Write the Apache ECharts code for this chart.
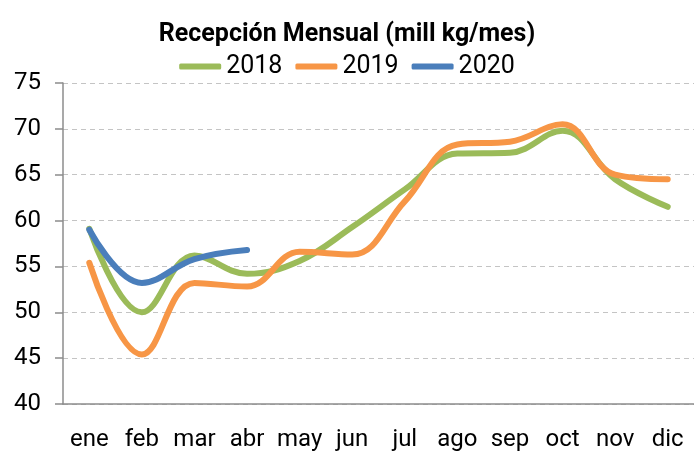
<!DOCTYPE html>
<html><head><meta charset="utf-8">
<script src="https://cdn.jsdelivr.net/npm/echarts@6/dist/echarts.min.js"></script>
<style>html,body{margin:0;padding:0;background:#fff}#c{width:694px;height:452px}</style>
</head><body><div id="c"></div>
<script>
const categories = ['ene','feb','mar','abr','may','jun','jul','ago','sep','oct','nov','dic'];
const yTicks = [40,45,50,55,60,65,70,75];
const s2018 = [59.1,50.0,56.2,54.2,55.6,59.3,63.4,67.3,67.4,69.8,64.5,61.5];
const s2019 = [55.4,45.4,53.2,52.8,56.6,56.3,62.1,68.3,68.6,70.5,65.0,64.5];
const s2020 = [59.0,53.2,55.8,56.8];
const names = ['2018','2019','2020'];
const colors = ['#9BBB59','#F79646','#4A7EBB'];
const font = 'Roboto, "Noto Sans", sans-serif';

const chart = echarts.init(document.getElementById('c'));
const mk = (name, data, color) => ({
  name, type:'line', data, smooth:0.4, symbol:'none',
  lineStyle:{width:6, color, cap:'round', join:'round'}, itemStyle:{color}
});
chart.setOption({
  animation:false,
  title:{text:'Recepción Mensual (mill kg/mes)', left:'center', top:17,
    textStyle:{fontFamily:font, fontWeight:'bold', fontSize:25, color:'#000'}},
  legend:{top:49, left:'center', itemWidth:42, itemHeight:6, itemGap:13, icon:'roundRect',
    data:names, textStyle:{fontFamily:font, fontSize:25, color:'#000'}},
  grid:{left:63, right:-2, top:83, bottom:47, containLabel:false},
  xAxis:{type:'category', data:categories, boundaryGap:true,
    axisLine:{lineStyle:{color:'#8c8c8c', width:1.5}},
    axisTick:{length:8, interval:0, lineStyle:{color:'#8c8c8c', width:1.5}},
    axisLabel:{interval:0, margin:24, fontFamily:font, fontSize:24, color:'#000'}},
  yAxis:{type:'value', min:yTicks[0], max:yTicks[yTicks.length-1], interval:5,
    axisLine:{show:true, lineStyle:{color:'#8c8c8c', width:1.5}},
    axisTick:{show:true, length:8, lineStyle:{color:'#8c8c8c', width:1.5}},
    axisLabel:{margin:22, fontFamily:font, fontSize:24, color:'#000'},
    splitLine:{lineStyle:{color:'#c4c4c4', type:[5,4], width:1.2}}},
  series:[mk(names[0], s2018, colors[0]), mk(names[1], s2019, colors[1]), mk(names[2], s2020, colors[2])]
});
</script></body></html>
